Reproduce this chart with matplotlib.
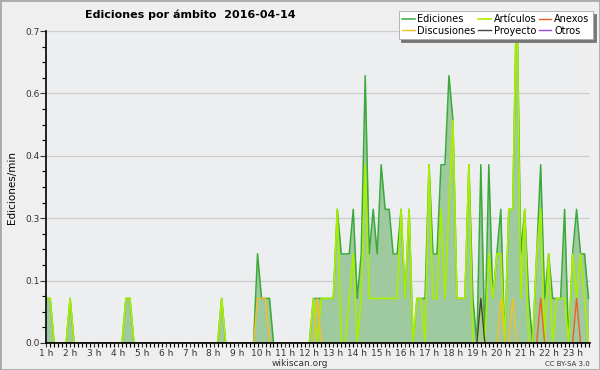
import numpy as np
import matplotlib
matplotlib.use("Agg")
import matplotlib.pyplot as plt
import matplotlib.ticker as plticker

plt.rcParams.update({'font.size': 7, 'font.family': 'DejaVu Sans'})

# 10-minute bins starting at 1 h (edits/min)
hours = [1 + i / 6 for i in range(137)]

ediciones = [
    0.1, 0.1, 0, 0, 0, 0, 0.1, 0, 0, 0,
    0, 0, 0, 0, 0, 0, 0, 0, 0, 0,
    0.1, 0.1, 0, 0, 0, 0, 0, 0, 0, 0,
    0, 0, 0, 0, 0, 0, 0, 0, 0, 0,
    0, 0, 0, 0, 0.1, 0, 0, 0, 0, 0,
    0, 0, 0, 0.2, 0.1, 0.1, 0.1, 0, 0, 0,
    0, 0, 0, 0, 0, 0, 0, 0.1, 0.1, 0.1,
    0.1, 0.1, 0.1, 0.3, 0.2, 0.2, 0.2, 0.3, 0.1, 0.2,
    0.6, 0.2, 0.3, 0.2, 0.4, 0.3, 0.3, 0.2, 0.2, 0.3,
    0.1, 0.3, 0, 0.1, 0.1, 0.1, 0.4, 0.2, 0.2, 0.4,
    0.4, 0.6, 0.5, 0.1, 0.1, 0.1, 0.4, 0.1, 0, 0.4,
    0, 0.4, 0.1, 0.2, 0.3, 0, 0.3, 0.3, 0.8, 0.2,
    0.3, 0.1, 0, 0.2, 0.4, 0.1, 0.2, 0.1, 0.1, 0.1,
    0.3, 0, 0.2, 0.3, 0.2, 0.2, 0.1,
]
articulos = [
    0.1, 0.1, 0, 0, 0, 0, 0.1, 0, 0, 0,
    0, 0, 0, 0, 0, 0, 0, 0, 0, 0,
    0.1, 0.1, 0, 0, 0, 0, 0, 0, 0, 0,
    0, 0, 0, 0, 0, 0, 0, 0, 0, 0,
    0, 0, 0, 0, 0.1, 0, 0, 0, 0, 0,
    0, 0, 0, 0, 0, 0, 0, 0, 0, 0,
    0, 0, 0, 0, 0, 0, 0, 0.1, 0, 0.1,
    0.1, 0.1, 0.1, 0.3, 0, 0, 0.1, 0.2, 0, 0.1,
    0.4, 0.1, 0.1, 0.1, 0.1, 0.1, 0.1, 0.1, 0.1, 0.3,
    0.1, 0.3, 0, 0.1, 0.1, 0, 0.4, 0.1, 0.1, 0.3,
    0.1, 0.3, 0.5, 0.1, 0.1, 0.1, 0.4, 0, 0, 0.1,
    0, 0.2, 0.1, 0.2, 0.2, 0, 0.3, 0.3, 0.8, 0.1,
    0.3, 0, 0, 0.2, 0.3, 0, 0.2, 0, 0.1, 0.1,
    0.1, 0, 0.2, 0.1, 0.2, 0.1, 0,
]
discusiones = [0] * 137
proyecto = [0] * 137
anexos = [0] * 137
otros = [0] * 137
for i in (53, 54, 55, 68, 114, 117):
    discusiones[i] = 0.1
proyecto[109] = 0.1
anexos[124] = 0.1
anexos[133] = 0.1

fig = plt.figure(figsize=(6, 3.7), dpi=100, facecolor='#efefef')
ax = fig.add_axes([0.077, 0.073, 0.906, 0.843])
ax.set_facecolor('#edeef0')

# total with fill, then the namespaces on top
ax.fill_between(hours, ediciones, color='#9fc99f', lw=0, zorder=1)
ax.plot(hours, ediciones, color='#3aaa3a', lw=1.1, zorder=3, label='Ediciones')
ax.plot(hours, articulos, color='#aaee00', lw=1.2, zorder=4, label='Artículos')
ax.plot(hours, anexos, color='#f06020', lw=1.0, zorder=5, label='Anexos')
ax.plot(hours, discusiones, color='#f5c020', lw=1.0, zorder=5, label='Discusiones')
ax.plot(hours, proyecto, color='#444444', lw=1.0, zorder=5, label='Proyecto')
ax.plot(hours, otros, color='#9944ee', lw=1.0, zorder=2, label='Otros')

ax.set_xlim(1, 23.72)
ax.set_ylim(0, 0.7)
ax.set_yticks(np.arange(0, 0.71, 0.14))
ax.yaxis.set_major_formatter(plticker.FormatStrFormatter('%.1f'))
ax.yaxis.set_minor_locator(plticker.MultipleLocator(0.035))
ax.set_xticks(range(1, 24))
ax.set_xticklabels(['%d h' % h for h in range(1, 24)])
ax.xaxis.set_minor_locator(plticker.MultipleLocator(1 / 6))
ax.tick_params(axis='both', labelsize=6.5, colors='#333333', length=4, width=0.8, pad=1)
ax.tick_params(axis='y', which='minor', length=3, width=0.8)
ax.tick_params(axis='x', which='minor', length=3, width=0.8)
ax.tick_params(axis='x', which='major', length=3)
ax.grid(axis='y', color='#cccccc', lw=0.9)
ax.set_axisbelow(True)
for s in ('top', 'right'):
    ax.spines[s].set_visible(False)
for s in ('left', 'bottom'):
    ax.spines[s].set_zorder(10)
    ax.spines[s].set_linewidth(1.2)

ax.set_ylabel('Ediciones/min', fontsize=7.5, labelpad=6)
fig.text(0.142, 0.952, 'Ediciones por ámbito  2016-04-14', fontsize=8, fontweight='bold')

# legend order: column-wise like the reference
h, l = ax.get_legend_handles_labels()
order = [0, 3, 1, 4, 2, 5]
leg = ax.legend([h[i] for i in order], [l[i] for i in order], ncol=3, fontsize=7,
                loc='upper right', bbox_to_anchor=(593 / 600, 1 - 11 / 370),
                bbox_transform=fig.transFigure, frameon=True,
                shadow={'color': '#777777', 'alpha': 1}, fancybox=False, handlelength=1.3,
                handletextpad=0.3, columnspacing=0.25, labelspacing=0.15, borderpad=0.35,
                borderaxespad=0)
leg.get_frame().set_edgecolor('#aaaaaa')
leg.get_frame().set_linewidth(0.6)

fig.text(0.5, 0.01, 'wikiscan.org', ha='center', fontsize=6.5, color='#333333')
fig.text(0.983, 0.012, 'CC BY-SA 3.0', ha='right', fontsize=5, color='#333333')

# outer border
fig.patches.append(plt.Rectangle((0, 0), 1, 1, transform=fig.transFigure, fill=False,
                                 edgecolor='#aaaaaa', lw=2))

fig.savefig('out.png', dpi=100, facecolor=fig.get_facecolor())
